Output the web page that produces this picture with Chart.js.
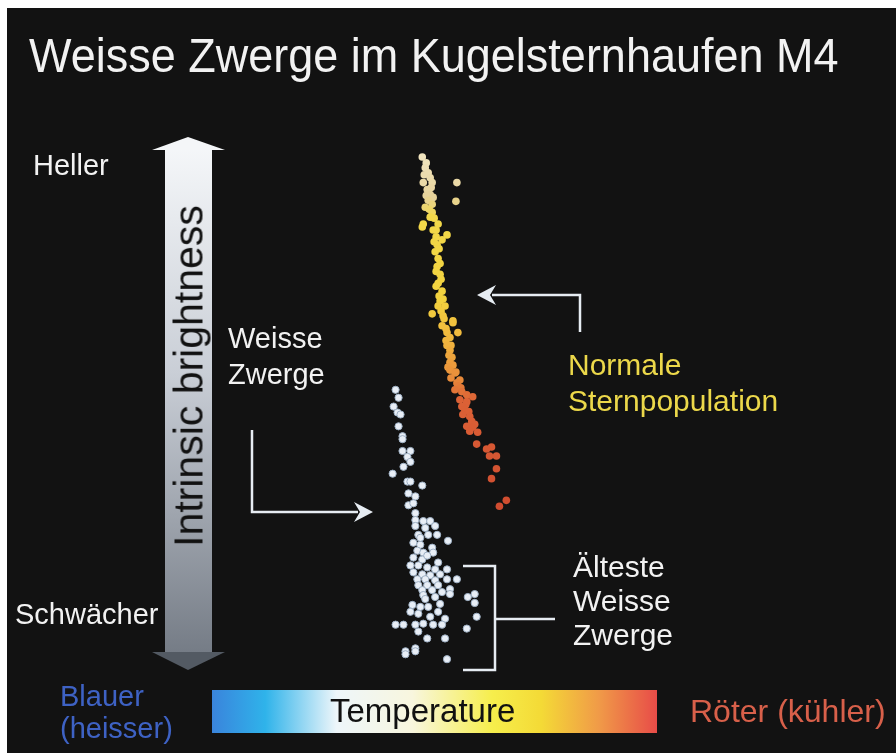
<!DOCTYPE html>
<html>
<head>
<meta charset="utf-8">
<script src="https://cdn.jsdelivr.net/npm/chart.js@4.4.1/dist/chart.umd.min.js"></script>
<style>
  html, body { margin: 0; padding: 0; background: #fff; }
  #wrap { position: relative; width: 896px; height: 753px; overflow: hidden; }
  #bg { position: absolute; left: 7px; top: 8px; width: 889px; height: 745px; background: #121212; }
  canvas { position: absolute; left: 0; top: 0; }
  .lbl { position: absolute; font-family: "Liberation Sans", Arial, sans-serif; color: #f2f2f2; white-space: nowrap; }
</style>
</head>
<body>
<div id="wrap">
  <div id="bg"></div>
  <canvas id="hrd" width="896" height="753"></canvas>
  <div class="lbl" style="left:29px; top:34px; font-size:45px; line-height:45px; transform:scaleY(1.06); transform-origin:left bottom;">Weisse Zwerge im Kugelsternhaufen M4</div>
  <div class="lbl" style="left:33px; top:151px; font-size:29px; line-height:29px;">Heller</div>
  <div class="lbl" style="left:15px; top:600px; font-size:29px; line-height:29px;">Schwächer</div>
  <div class="lbl" style="left:228px; top:320px; font-size:29px; line-height:36px;">Weisse<br>Zwerge</div>
  <div class="lbl" style="left:568px; top:347px; font-size:30px; line-height:36px; color:#ecd84a;">Normale<br>Sternpopulation</div>
  <div class="lbl" style="left:573px; top:550px; font-size:30px; line-height:34px;">Älteste<br>Weisse<br>Zwerge</div>
  <div class="lbl" style="left:60px; top:680px; font-size:29px; line-height:32px; color:#3e62c4;">Blauer<br>(heisser)</div>
  <div class="lbl" style="left:330px; top:694px; font-size:33px; line-height:33px; color:#111;">Temperature</div>
  <div class="lbl" style="left:690px; top:695px; font-size:32px; line-height:32px; color:#d8604a;">Röter (kühler)</div>
  <div class="lbl" style="left:189px; top:376px; font-size:41px; line-height:41px; color:#111; transform:translate(-50%,-50%) rotate(-90deg);">Intrinsic brightness</div>
</div>
<script>
// colour index (x) and magnitude (y, brighter = smaller)
const mainSequence = [
  [4.22,16.54],[4.26,16.60],[4.25,16.65],[4.28,16.70],[4.24,16.72],[4.30,16.75],[4.23,16.80],[4.32,16.80],
  [4.57,16.80],[4.31,16.85],[4.27,16.87],[4.30,16.92],[4.26,16.93],[4.33,16.95],[4.28,16.98],[4.56,16.99],
  [4.32,17.02],[4.25,17.05],[4.29,17.07],[4.32,17.10],[4.30,17.15],[4.34,17.16],[4.23,17.22],[4.38,17.22],
  [4.22,17.25],[4.33,17.28],[4.36,17.28],[4.47,17.33],[4.36,17.35],[4.42,17.38],[4.34,17.40],[4.37,17.43],
  [4.39,17.47],[4.35,17.50],[4.38,17.57],[4.40,17.62],[4.37,17.65],[4.36,17.70],[4.40,17.73],[4.41,17.78],
  [4.38,17.82],[4.36,17.85],[4.42,17.90],[4.39,17.95],[4.43,17.98],[4.40,18.00],[4.45,18.05],[4.38,18.05],
  [4.41,18.10],[4.32,18.13],[4.43,18.15],[4.44,18.18],[4.53,18.20],[4.53,18.22],[4.42,18.25],[4.46,18.28],
  [4.47,18.32],[4.58,18.32],[4.50,18.37],[4.46,18.40],[4.47,18.45],[4.51,18.45],[4.50,18.50],[4.49,18.55],
  [4.52,18.57],[4.50,18.62],[4.53,18.65],[4.48,18.67],[4.50,18.70],[4.56,18.72],[4.55,18.73],[4.51,18.78],
  [4.60,18.80],[4.57,18.83],[4.58,18.86],[4.61,18.88],[4.55,18.90],[4.62,18.92],[4.67,18.95],[4.73,18.97],
  [4.60,19.00],[4.67,19.02],[4.66,19.05],[4.62,19.07],[4.65,19.10],[4.69,19.12],[4.63,19.15],[4.70,19.17],
  [4.72,19.22],[4.75,19.25],[4.67,19.27],[4.73,19.28],[4.70,19.32],[4.78,19.33],[4.77,19.45],[4.92,19.48],
  [4.87,19.50],[4.90,19.57],[4.97,19.57],[4.97,19.70],[4.92,19.80],[5.07,20.02],[5.00,20.08]
];

const whiteDwarfs = [
  [3.95,18.90],[3.98,18.98],[3.93,19.07],[3.97,19.13],[4.00,19.15],[3.98,19.27],[4.02,19.37],[4.02,19.40],
  [4.02,19.52],[4.10,19.52],[4.07,19.58],[4.10,19.63],[4.03,19.68],[3.92,19.75],[4.07,19.83],[4.10,19.83],
  [4.22,19.87],[4.08,19.95],[4.15,19.98],[4.08,20.07],[4.13,20.05],[4.15,20.15],[4.15,20.22],[4.23,20.23],
  [4.30,20.23],[4.15,20.28],[4.25,20.30],[4.35,20.28],[4.37,20.37],[4.18,20.37],[4.28,20.37],[4.48,20.43],
  [4.13,20.45],[4.20,20.47],[4.32,20.50],[4.17,20.53],[4.23,20.55],[4.33,20.55],[4.13,20.60],[4.22,20.62],
  [4.10,20.68],[4.18,20.68],[4.27,20.70],[4.35,20.72],[4.47,20.72],[4.13,20.75],[4.22,20.77],[4.30,20.78],
  [4.40,20.77],[4.17,20.82],[4.25,20.82],[4.35,20.83],[4.47,20.82],[4.57,20.82],[4.18,20.88],[4.27,20.88],
  [4.38,20.88],[4.50,20.92],[4.22,20.93],[4.32,20.93],[4.42,20.95],[4.23,20.98],[4.35,21.00],[4.50,20.97],
  [4.68,21.00],[4.75,20.97],[4.12,21.08],[4.20,21.10],[4.28,21.10],[4.40,21.07],[4.75,21.06],[4.10,21.15],
  [4.18,21.17],[4.30,21.20],[4.38,21.15],[4.45,21.22],[4.77,21.20],[3.95,21.28],[4.03,21.28],[4.15,21.28],
  [4.23,21.27],[4.33,21.28],[4.42,21.28],[4.67,21.32],[4.18,21.35],[4.27,21.42],[4.45,21.42],[4.05,21.55],
  [4.05,21.58],[4.15,21.52],[4.15,21.55],[4.47,21.63],[4.20,20.40],[4.27,20.58],[4.38,20.65],[4.25,21.02]
];

const tempStops = [0, 0.12, 0.28, 0.45, 0.63, 0.74, 0.87, 1];
const tempColours = ['#3a84dc', '#2fb3ea', '#eef6fa', '#f8f6de', '#f6ee4c', '#f4da36', '#f09a48', '#e84c48'];

// main sequence dot colour follows magnitude: pale at the top, red at the faint end
const msMagStops = [16.5, 16.95, 17.15, 18.0, 18.45, 18.8, 19.0, 20.1];
const msColours = ['#f2e6c2', '#e6d29a', '#f2d84a', '#f2d23e', '#f0b23e', '#e88a3a', '#dc6236', '#d04c30'];

function hexToRgb(h) {
  return [parseInt(h.slice(1,3),16), parseInt(h.slice(3,5),16), parseInt(h.slice(5,7),16)];
}
function msColour(mag) {
  if (mag <= msMagStops[0]) return msColours[0];
  for (let i = 1; i < msMagStops.length; i++) {
    if (mag <= msMagStops[i]) {
      const t = (mag - msMagStops[i-1]) / (msMagStops[i] - msMagStops[i-1]);
      const a = hexToRgb(msColours[i-1]), b = hexToRgb(msColours[i]);
      return 'rgb(' + a.map((v, k) => Math.round(v + (b[k] - v) * t)).join(',') + ')';
    }
  }
  return msColours[msColours.length - 1];
}

const whiteArrow = (ctx, pts, head) => {
  ctx.beginPath();
  ctx.moveTo(pts[0][0], pts[0][1]);
  for (let i = 1; i < pts.length; i++) ctx.lineTo(pts[i][0], pts[i][1]);
  ctx.stroke();
  const [tx, ty, dx, dy] = head;
  const px = -dy, py = dx;
  ctx.beginPath();
  ctx.moveTo(tx, ty);
  ctx.lineTo(tx - dx * 19 + px * 10, ty - dy * 19 + py * 10);
  ctx.lineTo(tx - dx * 13, ty - dy * 13);
  ctx.lineTo(tx - dx * 19 - px * 10, ty - dy * 19 - py * 10);
  ctx.closePath();
  ctx.fill();
};

const decorations = {
  id: 'decorations',
  beforeDatasetsDraw(chart) {
    const ctx = chart.ctx;
    ctx.save();

    // brightness arrow
    const g = ctx.createLinearGradient(0, 140, 0, 660);
    g.addColorStop(0, '#f6f8fa');
    g.addColorStop(0.45, '#c9ced6');
    g.addColorStop(1, '#737a84');
    ctx.fillStyle = g;
    ctx.fillRect(165, 148, 47, 505);
    ctx.fillStyle = '#f4f6f8';
    ctx.beginPath();
    ctx.moveTo(188, 137); ctx.lineTo(225, 150); ctx.lineTo(152, 150); ctx.closePath();
    ctx.fill();
    ctx.fillStyle = '#535a63';
    ctx.beginPath();
    ctx.moveTo(152, 652); ctx.lineTo(225, 652); ctx.lineTo(188, 670); ctx.closePath();
    ctx.fill();

    // temperature bar
    const tg = ctx.createLinearGradient(212, 0, 657, 0);
    tempStops.forEach((s, i) => tg.addColorStop(s, tempColours[i]));
    ctx.fillStyle = tg;
    ctx.fillRect(212, 690, 445, 43);

    // pointer arrows and bracket
    ctx.strokeStyle = '#e6ecf2';
    ctx.fillStyle = '#e6ecf2';
    ctx.lineWidth = 2.5;
    whiteArrow(ctx, [[580, 332], [580, 295], [492, 295]], [477, 295, -1, 0]);
    whiteArrow(ctx, [[252, 430], [252, 512], [358, 512]], [373, 512, 1, 0]);
    ctx.beginPath();
    ctx.moveTo(463, 566); ctx.lineTo(495, 566); ctx.lineTo(495, 670); ctx.lineTo(463, 670);
    ctx.moveTo(495, 619); ctx.lineTo(555, 619);
    ctx.stroke();

    ctx.restore();
  }
};

new Chart(document.getElementById('hrd'), {
  type: 'scatter',
  data: {
    datasets: [
      {
        label: 'Normale Sternpopulation',
        data: mainSequence.map(([x, y]) => ({x, y})),
        pointRadius: 3.8,
        borderWidth: 0,
        backgroundColor: c => msColour(c.raw ? c.raw.y : 17)
      },
      {
        label: 'Weisse Zwerge',
        data: whiteDwarfs.map(([x, y]) => ({x, y})),
        pointRadius: 3.6,
        borderWidth: 1,
        borderColor: '#9eb0c4',
        backgroundColor: '#e8eef6'
      }
    ]
  },
  options: {
    responsive: false,
    animation: false,
    devicePixelRatio: 1,
    layout: { padding: 0 },
    plugins: { legend: { display: false }, tooltip: { enabled: false } },
    scales: {
      x: { type: 'linear', min: 0, max: 8.96, display: false },
      y: { type: 'linear', min: 15, max: 22.53, reverse: true, display: false }
    }
  },
  plugins: [decorations]
});
</script>
</body>
</html>
